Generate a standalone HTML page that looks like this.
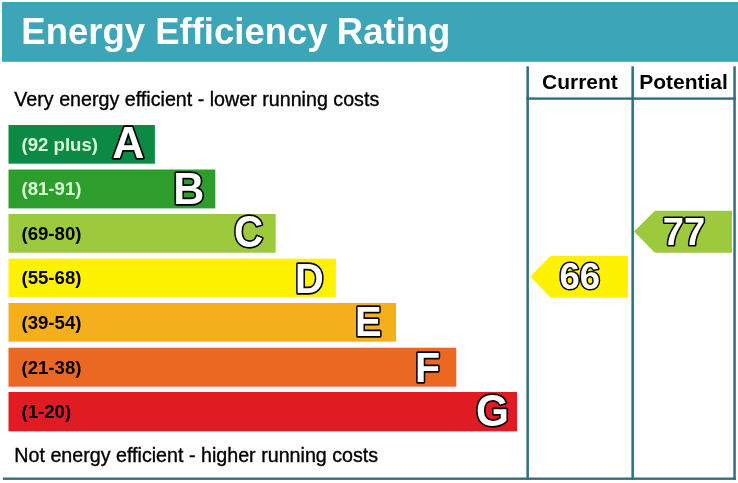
<!DOCTYPE html>
<html>
<head>
<meta charset="utf-8">
<title>Energy Efficiency Rating</title>
<style>
html,body{margin:0;padding:0;background:#fff;}
body{width:738px;height:483px;overflow:hidden;}
svg{display:block;}
text{font-family:"Liberation Sans",Arial,sans-serif;}
.b{font-weight:bold;}
.ol{font-weight:bold;fill:#fff;stroke:#000;stroke-width:3.3px;paint-order:stroke fill;stroke-linejoin:round;}
</style>
</head>
<body>
<svg width="738" height="483" viewBox="0 0 738 483">
<rect x="0" y="0" width="738" height="483" fill="#ffffff"/>
<!-- header -->
<rect x="2" y="2" width="736" height="59.8" fill="#3ca6b8"/>
<text id="title" class="b" x="21.3" y="44" font-size="36.5" fill="#ffffff">Energy Efficiency <tspan dx="-0.9">Rating</tspan></text>

<!-- table lines -->
<g fill="#316e7e">
<rect x="526.4" y="66.3" width="2.5" height="413.6"/>
<rect x="631.4" y="66.3" width="2.5" height="413.6"/>
<rect x="733.3" y="66.3" width="2.5" height="413.6"/>
<rect x="526.4" y="97.4" width="209.4" height="2.4"/>
<rect x="3" y="477.5" width="732.8" height="2.4"/>
</g>
<text id="cur" class="b" x="542" y="89.1" font-size="21" fill="#000">Current</text>
<text id="pot" class="b" x="639.2" y="89.2" font-size="21" fill="#000">Potential</text>

<text id="very" transform="translate(14.3,105.7) scale(1,1.045)" font-size="19.7" fill="#000" stroke="#000" stroke-width="0.35">Very energy efficient - lower running costs</text>
<text id="not" transform="translate(14.3,461.8) scale(1,1.045)" font-size="19.7" fill="#000" stroke="#000" stroke-width="0.35">Not energy efficient - higher running costs</text>

<!-- bars -->
<rect x="8.5" y="125" width="146.4" height="38.7" fill="#0c8a43"/>
<rect x="8.5" y="169.5" width="206.8" height="38.9" fill="#2d9e2b"/>
<rect x="8.5" y="214" width="267.2" height="38.7" fill="#9dca3c"/>
<rect x="8.5" y="258.7" width="327.4" height="38.2" fill="#fff200"/>
<rect x="8.5" y="303" width="387.5" height="38.7" fill="#f5af1d"/>
<rect x="8.5" y="347.7" width="447.8" height="39" fill="#eb6822"/>
<rect x="8.5" y="392" width="508.5" height="39.3" fill="#e01b22"/>

<g class="b" font-size="18.6">
<text id="r1" x="21.5" y="150.6" fill="#d8fad8">(92 plus)</text>
<text id="r2" x="21.5" y="194.8" fill="#d8fad8">(81-91)</text>
<text id="r3" x="21.5" y="239.6" fill="#000">(69-80)</text>
<text id="r4" x="21.5" y="284.1" fill="#000">(55-68)</text>
<text id="r5" x="21.5" y="329.2" fill="#000">(39-54)</text>
<text id="r6" x="21.5" y="374.0" fill="#000">(21-38)</text>
<text id="r7" x="21.5" y="418.1" fill="#000">(1-20)</text>
</g>

<g class="ol" font-size="42.5">
<text id="lA" transform="translate(112.28,158.45) scale(1.0476,1.03)">A</text>
<text id="lB" transform="translate(173.32,204.1) scale(1.0132,1.04)">B</text>
<text id="lC" transform="translate(233.99,247.45) scale(0.9528,1.03)">C</text>
<text id="lD" transform="translate(294.95,292.7) scale(0.9388,1.02)">D</text>
<text id="lE" transform="translate(354.89,336.2) scale(0.9395,1.02)">E</text>
<text id="lF" transform="translate(414.89,381.7) scale(0.9687,1.02)">F</text>
<text id="lG" transform="translate(475.91,425.9) scale(0.9988,1.025)">G</text>
</g>

<!-- arrows -->
<polygon points="530.4,276.6 550.6,255.7 628,255.7 628,297.7 550.6,297.7" fill="#fff200"/>
<polygon points="634,231.6 654.9,210.7 732,210.7 732,252.8 654.9,252.8" fill="#9dca3c"/>
<g class="ol" font-size="40">
<text id="n66" transform="translate(559.4,289.25) scale(0.915,0.942)">66</text>
<text id="n77" transform="translate(662.75,245.03) scale(0.955,0.975)">77</text>
</g>
</svg>
</body>
</html>
